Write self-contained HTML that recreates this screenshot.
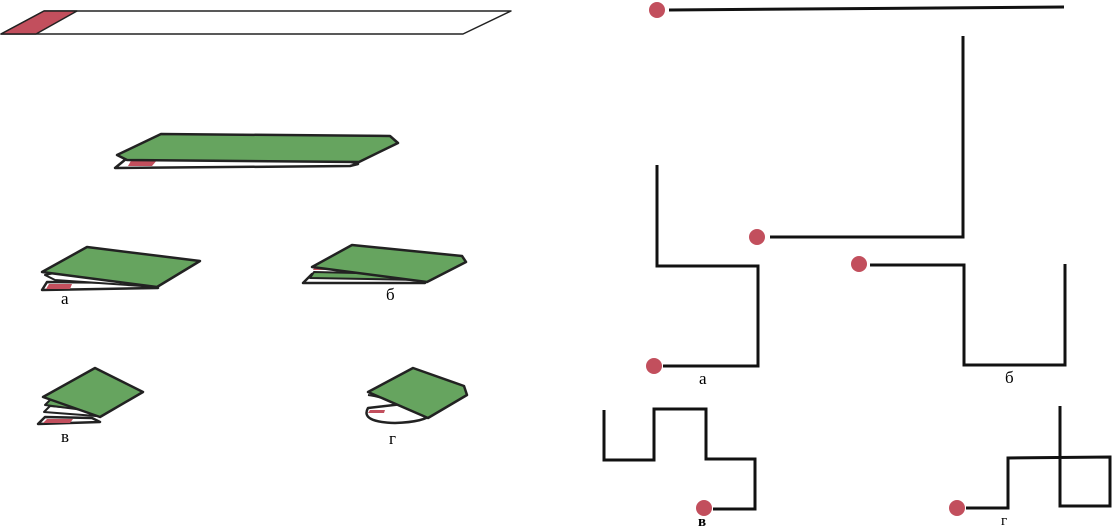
<!DOCTYPE html>
<html><head><meta charset="utf-8"><style>
html,body{margin:0;padding:0;background:#fff;}
svg{display:block;}
text{font-family:"Liberation Serif",serif;font-size:17px;fill:#000;}
</style></head><body>
<svg width="1117" height="532" viewBox="0 0 1117 532" xmlns="http://www.w3.org/2000/svg">
<g stroke="#222" stroke-linejoin="round">
<polygon points="1,34 44,11 511,11 463,34" fill="#fff" stroke-width="1.5"/>
<polygon points="1,34 44,11 77,11 36,34" fill="#c24f5d" stroke-width="1.5"/>
<polygon points="115,168 126,159 345,160 358,164 350,166" fill="#fff" stroke-width="2.5"/>
<polygon points="128,166 132,159 158,159 152,166" fill="#c24f5d" stroke="none"/>
<polygon points="117,155 161,134 390,136 398,143 359,162 127,160" fill="#66a45f" stroke-width="2.5"/>
<polygon points="42,290 47,282 150,283 158,288" fill="#fff" stroke-width="2.5"/>
<polygon points="46,289 49,284 72,284 70,289" fill="#c24f5d" stroke="none"/>
<path d="M45,275 Q90,265 140,282 L157,287 L55,280 Z" fill="#fff" stroke-width="2"/>
<polygon points="42,272 87,247 200,261 157,287" fill="#66a45f" stroke-width="2.5"/>
<polygon points="303,283 312,274 410,276 425,283" fill="#fff" stroke-width="2.5"/>
<polygon points="310,278 314,272 400,274 420,280" fill="#66a45f" stroke-width="2"/>
<polygon points="313,270 315,266 335,266 334,270" fill="#c24f5d" stroke="none"/>
<polygon points="312,267 352,245 462,256 466,262 427,282" fill="#66a45f" stroke-width="2.5"/>
<polygon points="38,424 45,417 92,418 100,422" fill="#fff" stroke-width="2.5"/>
<polygon points="43,423 47,419 73,419 70,423" fill="#c24f5d" stroke="none"/>
<polygon points="44,412 50,406 95,410 96,416" fill="#fff" stroke-width="2"/>
<polygon points="45,405 52,398 98,404 99,412" fill="#66a45f" stroke-width="2"/>
<polygon points="43,397 95,368 143,392 100,417" fill="#66a45f" stroke-width="2.5"/>
<path d="M368,408 Q360,422 395,423 Q425,422 432,414 L420,402 Z" fill="#fff" stroke-width="2.5"/>
<polygon points="368,413 370,410 385,410 384,413" fill="#c24f5d" stroke="none"/>
<path d="M368,395 Q390,398 430,416" fill="none" stroke-width="2"/>
<polygon points="368,392 413,368 464,386 467,395 428,418" fill="#66a45f" stroke-width="2.5"/>
</g>
<text x="61" y="304">а</text>
<text x="386" y="300">б</text>
<text x="61" y="442">в</text>
<text x="389" y="444">г</text>

<g fill="none" stroke="#111" stroke-width="3" stroke-linejoin="miter">
<polyline points="669,10 1064,7"/>
<polyline points="963,36 963,237 770,237"/>
<polyline points="657,165 657,266 758,266 758,366 663,366"/>
<polyline points="870,265 964,265 964,365 1065,365 1065,264"/>
<polyline points="604,410 604,460 654,460 654,409 706,409 706,459 755,459 755,509 713,509"/>
<polyline points="966,508 1008,508 1008,458 1110,457 1110,506 1060,506 1060,406"/>
</g>
<g fill="#c24f5d">
<circle cx="657" cy="10" r="8"/>
<circle cx="757" cy="237" r="8"/>
<circle cx="654" cy="366" r="8"/>
<circle cx="859" cy="264" r="8"/>
<circle cx="704" cy="508" r="8"/>
<circle cx="957" cy="508" r="8"/>
</g>
<text x="699" y="384">а</text>
<text x="1005" y="383">б</text>
<text x="698" y="526" style="font-weight:bold;font-size:15px">в</text>
<text x="1001" y="525" style="font-size:15px">г</text>
</svg>
</body></html>
